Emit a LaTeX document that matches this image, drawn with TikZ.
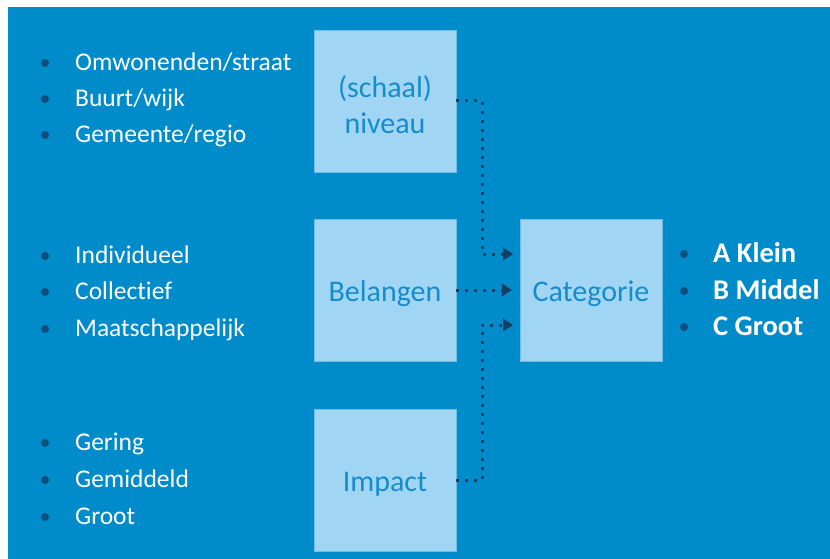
\documentclass[tikz,border=0pt]{standalone}
\usepackage{fontspec}
\setmainfont{Carlito}[Ligatures={NoCommon}]
\usetikzlibrary{arrows.meta, positioning}

\definecolor{bgblue}{RGB}{0,139,202}
\definecolor{boxfill}{RGB}{160,214,243}
\definecolor{boxedge}{RGB}{110,190,232}
\definecolor{boxtext}{RGB}{22,140,205}
\definecolor{bulletblue}{RGB}{12,78,125}
\definecolor{linkblue}{RGB}{25,62,100}

\begin{document}
\begin{tikzpicture}[
    x=1pt, y=-1pt,
    box/.style={draw=boxedge, fill=boxfill, minimum width=142pt, minimum height=142pt, inner sep=0pt},
    boxlabel/.style={align=center, text=boxtext, yshift=-4pt, font=\fontsize{30}{36}\selectfont},
    item/.style={anchor=mid west, inner sep=0pt, text=white, font=\fontsize{25.5}{30}\selectfont},
    result/.style={item, font=\fontsize{28.5}{30}\selectfont\bfseries},
    dot/.style={circle, fill=bulletblue, minimum size=8pt, inner sep=0pt},
    link/.style={draw=linkblue, line width=3pt, dash pattern=on 3pt off 6pt,
        -{Triangle[length=10pt, width=13pt, line width=0pt]}}
]

\useasboundingbox (0,0) rectangle (830,559);
\fill[bgblue] (8,7) rectangle (830,559);

% the four boxes
\node[box, label={[boxlabel]center:{(schaal)\\niveau}}] (niveau) at (385,101) {};
\node[box, label={[boxlabel]center:Belangen}] (belang) at (385,290) {};
\node[box, label={[boxlabel]center:Impact}] (impact) at (385,480) {};
\node[box, label={[boxlabel]center:Categorie}] (cat) at (591,290) {};

% scale levels
\node[dot] (d1) at (45,63) {};
\node[item] (n1) at (75,68) {Omwonenden/straat};
\node[dot] (d2) at (45,99) {};
\node[item] (n2) at (75,104) {Buurt/wijk};
\node[dot] (d3) at (45,135) {};
\node[item] (n3) at (75,140) {Gemeente/regio};

% interests
\node[dot] (d4) at (45,256) {};
\node[item] (b1) at (75,261) {Individueel};
\node[dot] (d5) at (45,292) {};
\node[item] (b2) at (75,297) {Collectief};
\node[dot] (d6) at (45,329) {};
\node[item] (b3) at (75,334) {Maatschappelijk};

% impact
\node[dot] (d7) at (45,443) {};
\node[item] (m1) at (75,448) {Gering};
\node[dot] (d8) at (45,480) {};
\node[item] (m2) at (75,485) {Gemiddeld};
\node[dot] (d9) at (45,517) {};
\node[item] (m3) at (75,522) {Groot};

% categories
\node[dot] (d10) at (684,254) {};
\node[result] (c1) at (713,260) {A Klein};
\node[dot] (d11) at (684,291) {};
\node[result] (c2) at (713,297) {B Middel};
\node[dot] (d12) at (684,327) {};
\node[result] (c3) at (713,333) {C Groot};

\coordinate (in1) at (513,254);
\coordinate (in3) at (513,325);

\draw[link] (niveau.east) -- ++(26,0) |- (in1);
\draw[link] (belang.east) -- ([xshift=-8pt]cat.west);
\draw[link] (impact.east) -- ++(26,0) |- (in3);

\end{tikzpicture}
\end{document}
